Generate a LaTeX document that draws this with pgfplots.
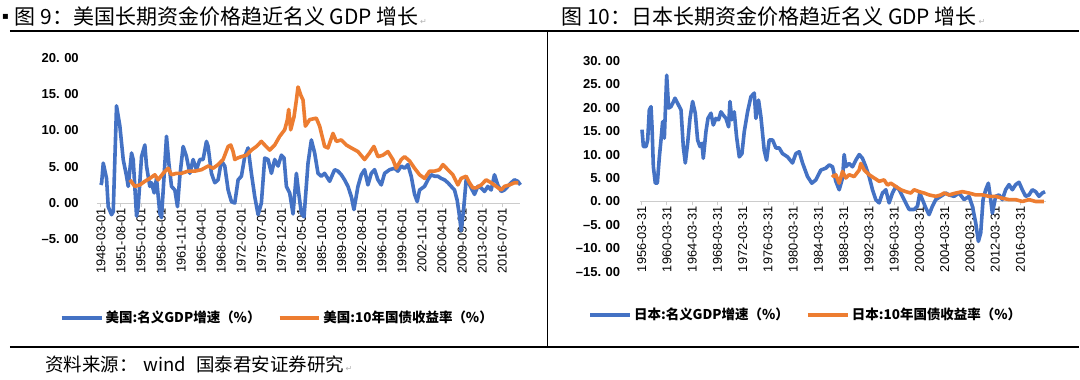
\documentclass[border=0pt]{standalone}
\usepackage{fontspec}
\setmainfont{Liberation Sans}
\newfontfamily\cjk{Noto Sans CJK SC}
\newfontfamily\dejavu{DejaVu Sans}
\usepackage{pgfplots}
\pgfplotsset{compat=1.18}
\definecolor{gblue}{HTML}{4472C4}
\definecolor{gorange}{HTML}{ED7D31}
\newcommand{\ret}{{\dejavu\fontsize{8}{8}\selectfont\color{gray!60}↵}}
\pgfplotsset{
  common/.style={
    scale only axis, clip=false,
    axis x line=middle, axis y line=left,
    axis line style={-},
    x axis line style={draw=black!20, line width=0.9pt},
    y axis line style={draw=none},
    major y tick style={draw=none},
    major x tick style={black!20, line width=0.9pt},
    tick align=outside, major tick length=4pt,
    hide obscured x ticks=false, hide obscured y ticks=false,
    xticklabel style={rotate=90, anchor=east, inner sep=1pt, font=\fontsize{12.8}{13}\selectfont},
    yticklabel style={anchor=east, inner sep=0pt, font=\bfseries\fontsize{13}{14}\selectfont},
    legend columns=2,
    legend style={draw=none, fill=none, font=\cjk\bfseries\fontsize{13.5}{15}\selectfont,
      /tikz/every even column/.append style={column sep=15pt}},
    legend image code/.code={\draw[#1, line width=4pt] (0pt,0pt) -- (40pt,0pt);},
    every axis plot/.append style={no marks, line width=3.6pt, line join=round},
  }
}
\begin{document}
\begin{tikzpicture}[x=1pt,y=1pt]
\fill[white] (0,0) rectangle (1080,380);
\draw[line width=2.2pt] (10,349) -- (1080,349);
\draw[line width=2pt] (10,33) -- (1080,33);
\draw[line width=0.9pt] (548,33) -- (548,349);
\node[anchor=west, inner sep=0pt] at (2,363) {\raisebox{5pt}{\dejavu\fontsize{10}{10}\selectfont ▪}\hspace{6pt}{\cjk\fontsize{21}{24}\selectfont 图 9：美国长期资金价格趋近名义 GDP 增长}\,\ret};
\node[anchor=west, inner sep=0pt] at (562,363) {{\cjk\fontsize{21}{24}\selectfont 图 10：日本长期资金价格趋近名义 GDP 增长}\,\ret};
\node[anchor=west, inner sep=0pt] at (45,15) {{\cjk\fontsize{18.5}{20}\selectfont 资料来源：\hspace{6pt}wind\hspace{10pt}国泰君安证券研究}\,\ret};

\begin{axis}[common,
  at={(97pt,140.4pt)}, anchor=south west, width=424pt, height=181.6pt,
  xmin=1947.49, xmax=2019.6, ymin=-5, ymax=20,
  ytick={-5,0,5,10,15,20},
  yticklabels={\textendash5.\hspace{0.35em}00,0.\hspace{0.35em}00,5.\hspace{0.35em}00,10.\hspace{0.35em}00,15.\hspace{0.35em}00,20.\hspace{0.35em}00},
  yticklabel style={xshift=-14pt},
  xtick={1948.17,1951.58,1955.00,1958.42,1961.83,1965.25,1968.67,1972.08,1975.50,1978.92,1982.33,1985.75,1989.17,1992.58,1996.00,1999.42,2002.83,2006.25,2009.67,2013.08,2016.50},
  xticklabels={1948-03-01,1951-08-01,1955-01-01,1958-06-01,1961-11-01,1965-04-01,1968-09-01,1972-02-01,1975-07-01,1978-12-01,1982-05-01,1985-10-01,1989-03-01,1992-08-01,1996-01-01,1999-06-01,2002-11-01,2006-04-01,2009-09-01,2013-02-01,2016-07-01},
  legend style={at={(0.4257,-0.432)}, anchor=center},
]
\addplot[gblue] coordinates {(1948.17,2.5)(1948.3,2.8)(1948.57,5.5)(1949.13,3.4)(1949.42,-0.5)(1949.98,-1.6)(1950.27,-1.2)(1950.83,13.4)(1951.40,10.6)(1951.97,6.0)(1952.54,3.7)(1952.82,2.3)(1953.39,6.9)(1953.67,6.0)(1954.24,-1.8)(1954.52,-0.5)(1955.09,6.4)(1955.65,8.0)(1955.94,5.1)(1956.50,2.3)(1956.79,2.8)(1957.24,1.4)(1957.64,3.4)(1958.20,-1.4)(1958.49,-2.0)(1959.34,9.2)(1959.74,5.5)(1960.19,2.3)(1960.76,1.8)(1961.21,-0.5)(1961.61,3.7)(1962.17,7.8)(1962.74,6.4)(1963.31,4.1)(1963.87,6.0)(1964.44,4.6)(1965.01,6.0)(1965.57,6.0)(1966.14,8.5)(1966.42,7.8)(1966.99,4.1)(1967.56,2.8)(1968.12,3.2)(1968.69,5.8)(1969.26,5.1)(1969.83,1.8)(1970.39,0.2)(1970.96,0.0)(1971.53,3.2)(1972.09,3.7)(1972.66,6.4)(1973.23,7.6)(1973.79,4.1)(1974.36,0.9)(1974.93,-1.6)(1975.49,0.0)(1976.06,6.2)(1976.63,6.0)(1977.20,4.1)(1977.76,6.0)(1978.33,5.1)(1978.90,6.6)(1979.35,6.2)(1979.75,2.3)(1980.31,1.4)(1980.88,-1.5)(1981.45,4.1)(1981.84,1.4)(1982.30,-1.4)(1982.75,-1.9)(1983.43,5.5)(1984.0,8.7)(1984.56,6.9)(1985.13,4.1)(1985.69,3.7)(1986.26,4.1)(1987.11,3.0)(1987.96,4.6)(1988.53,4.4)(1989.10,3.9)(1989.66,3.2)(1990.23,2.3)(1990.80,0.9)(1991.25,-0.9)(1991.93,2.3)(1992.50,3.9)(1993.06,4.6)(1993.63,2.5)(1994.20,4.1)(1994.76,4.6)(1995.33,3.2)(1995.90,2.5)(1996.47,4.1)(1997.32,4.6)(1998.17,4.8)(1998.73,4.4)(1999.30,5.1)(1999.87,4.8)(2000.43,5.3)(2001.0,3.7)(2001.57,1.2)(2002.02,0.2)(2002.42,1.8)(2003.27,2.3)(2003.83,3.2)(2004.40,3.9)(2004.97,3.7)(2005.54,3.7)(2006.10,3.4)(2006.67,3.2)(2007.24,2.8)(2007.80,2.3)(2008.37,1.8)(2008.82,0.4)(2009.22,-1.8)(2009.50,-3.8)(2009.96,-0.5)(2010.35,3.2)(2010.75,2.8)(2011.20,2.1)(2011.77,1.2)(2012.34,2.3)(2012.90,2.1)(2013.47,1.6)(2014.04,2.3)(2014.61,1.8)(2015.17,3.9)(2015.74,2.5)(2016.31,1.6)(2016.87,1.8)(2017.44,2.3)(2018.01,2.8)(2018.57,3.2)(2019.14,3.0)(2019.59,2.5)};
\addlegendentry{美国:名义GDP增速（\%）}
\addplot[gorange] coordinates {(1953.1,3.2)(1953.95,2.3)(1954.80,2.5)(1955.65,3.0)(1956.50,3.4)(1957.35,3.9)(1957.92,3.2)(1958.77,4.1)(1959.62,4.8)(1960.19,3.9)(1961.04,4.1)(1961.89,4.1)(1963.02,4.4)(1964.16,4.4)(1965.29,4.6)(1966.42,5.1)(1967.28,4.8)(1968.12,5.3)(1968.98,6.0)(1969.83,7.8)(1970.28,8.0)(1970.68,7.1)(1970.96,6.0)(1971.41,6.2)(1972.09,6.4)(1972.94,6.6)(1973.79,7.3)(1974.64,7.8)(1975.49,8.5)(1976.06,8.0)(1976.91,7.3)(1977.76,8.0)(1978.61,9.2)(1979.46,10.1)(1979.92,11.5)(1980.14,12.9)(1980.48,10.1)(1981.05,11.9)(1981.45,14.2)(1981.73,16.0)(1982.18,14.9)(1982.58,14.2)(1982.98,10.6)(1983.71,11.5)(1984.84,11.7)(1985.41,10.6)(1986.26,7.8)(1986.83,7.6)(1987.68,9.6)(1988.25,8.5)(1989.10,8.7)(1989.95,8.0)(1990.80,7.6)(1991.93,7.1)(1993.06,6.0)(1993.91,6.9)(1994.65,7.8)(1995.33,6.4)(1996.18,6.6)(1997.03,7.1)(1997.88,6.0)(1998.45,4.8)(1999.30,6.0)(1999.87,6.4)(2000.72,5.8)(2001.57,4.8)(2002.42,3.9)(2003.27,3.4)(2004.12,4.4)(2004.97,4.4)(2005.82,4.6)(2006.39,5.3)(2007.24,4.6)(2008.09,3.9)(2008.94,2.5)(2009.50,3.4)(2010.35,3.7)(2010.92,2.8)(2011.49,2.1)(2012.06,2.1)(2012.90,2.5)(2013.76,3.2)(2014.61,2.8)(2015.46,2.3)(2016.31,1.8)(2016.87,2.3)(2017.72,2.5)(2018.57,2.8)(2019.25,2.8)};
\addlegendentry{美国:10年国债收益率（\%）}
\end{axis}

\begin{axis}[common,
  at={(641pt,107.8pt)}, anchor=south west, width=406pt, height=211.5pt,
  xmin=1956.04, xmax=2020.28, ymin=-15, ymax=30,
  ytick={-15,-10,-5,0,5,10,15,20,25,30},
  yticklabels={\textendash15.\hspace{0.35em}00,\textendash10.\hspace{0.35em}00,\textendash5.\hspace{0.35em}00,0.\hspace{0.35em}00,5.\hspace{0.35em}00,10.\hspace{0.35em}00,15.\hspace{0.35em}00,20.\hspace{0.35em}00,25.\hspace{0.35em}00,30.\hspace{0.35em}00},
  yticklabel style={xshift=-16pt},
  xtick={1956.25,1960.25,1964.25,1968.25,1972.25,1976.25,1980.25,1984.25,1988.25,1992.25,1996.25,2000.25,2004.25,2008.25,2012.25,2016.25},
  xticklabels={1956-03-31,1960-03-31,1964-03-31,1968-03-31,1972-03-31,1976-03-31,1980-03-31,1984-03-31,1988-03-31,1992-03-31,1996-03-31,2000-03-31,2004-03-31,2008-03-31,2012-03-31,2016-03-31},
  legend style={at={(0.4076,-0.2024)}, anchor=center},
]
\addplot[gblue] coordinates {(1956.30,15.3)(1956.52,11.7)(1956.94,11.7)(1957.20,13.1)(1957.46,19.5)(1957.73,20.2)(1957.89,15.9)(1958.10,7.4)(1958.41,3.9)(1958.73,3.9)(1959.05,9.5)(1959.31,13.1)(1959.57,17.0)(1959.84,13.5)(1960.21,26.9)(1960.52,19.9)(1960.89,20.2)(1961.16,20.9)(1961.53,22.0)(1961.95,20.9)(1962.48,19.5)(1962.84,11.7)(1963.16,8.2)(1963.53,12.4)(1963.90,17.7)(1964.32,21.3)(1964.74,18.8)(1965.11,13.1)(1965.48,11.7)(1965.80,12.4)(1966.01,9.2)(1966.43,14.9)(1966.75,17.7)(1967.22,18.8)(1967.59,16.3)(1968.01,17.7)(1968.43,17.4)(1968.80,19.1)(1969.17,18.4)(1969.60,17.7)(1970.02,15.9)(1970.23,21.3)(1970.54,17.4)(1970.91,19.1)(1971.28,13.8)(1971.71,9.5)(1972.13,10.2)(1972.50,14.9)(1973.02,19.1)(1973.55,22.3)(1974.08,23.1)(1974.34,17.7)(1974.76,21.6)(1975.13,18.1)(1975.66,10.9)(1976.03,8.8)(1976.45,13.1)(1976.98,13.1)(1977.51,11.4)(1978.03,11.4)(1978.56,10.2)(1979.35,9.5)(1980.14,8.2)(1980.67,10.2)(1981.20,10.6)(1981.73,8.2)(1982.52,5.3)(1983.20,3.9)(1983.84,4.6)(1984.63,6.7)(1985.42,7.1)(1985.95,7.8)(1986.48,7.4)(1987.0,4.3)(1987.53,2.5)(1988.06,5.0)(1988.32,10.0)(1988.59,7.4)(1989.11,8.1)(1989.64,7.4)(1990.17,8.8)(1990.70,10.0)(1991.22,9.2)(1991.75,7.4)(1992.28,5.3)(1992.81,2.5)(1993.33,0.4)(1993.86,-0.3)(1994.39,1.8)(1994.92,2.5)(1995.44,-0.3)(1995.97,1.8)(1996.50,3.2)(1997.03,2.5)(1997.55,1.1)(1998.08,-0.3)(1998.61,-1.7)(1999.40,-1.7)(1999.93,-1.0)(2000.30,1.8)(2000.72,0.4)(2001.25,-1.4)(2001.77,-2.8)(2002.30,-1.0)(2002.83,0.4)(2003.62,1.1)(2004.41,1.8)(2004.94,1.4)(2005.73,1.1)(2006.52,1.8)(2007.31,0.4)(2008.10,1.1)(2008.63,-1.0)(2009.16,-4.6)(2009.58,-8.5)(2009.95,-6.7)(2010.32,0.4)(2010.74,2.5)(2011.16,3.9)(2011.53,0.4)(2011.79,-2.5)(2012.32,1.1)(2012.85,1.4)(2013.37,0.4)(2013.90,2.5)(2014.43,3.6)(2014.96,2.5)(2015.49,3.6)(2016.01,4.1)(2016.54,2.5)(2017.07,1.1)(2017.60,1.4)(2018.12,2.5)(2018.65,2.1)(2019.18,1.1)(2019.70,1.8)(2020.13,2.1)};
\addlegendentry{日本:名义GDP增速（\%）}
\addplot[gorange] coordinates {(1986.4,5.7)(1986.7,5.3)(1987.0,5.7)(1987.53,3.9)(1988.06,6.4)(1988.59,5.0)(1989.11,5.7)(1989.90,5.3)(1990.70,6.7)(1990.96,8.1)(1991.49,6.7)(1992.28,5.7)(1993.07,5.0)(1993.86,4.3)(1994.65,4.6)(1995.18,3.5)(1995.71,3.9)(1996.50,3.2)(1997.29,2.5)(1998.08,2.1)(1998.87,1.8)(1999.40,2.5)(2000.19,2.1)(2000.98,1.8)(2001.77,1.4)(2002.83,1.1)(2003.62,1.4)(2004.15,1.8)(2004.94,1.4)(2006.0,1.8)(2007.05,2.1)(2008.10,1.8)(2009.16,1.4)(2010.21,1.4)(2011.27,1.1)(2012.32,1.1)(2013.37,0.7)(2014.43,0.4)(2015.49,0.4)(2016.54,0.0)(2017.60,0.4)(2018.65,0.0)(2019.97,0.0)};
\addlegendentry{日本:10年国债收益率（\%）}
\end{axis}
\end{tikzpicture}
\end{document}
